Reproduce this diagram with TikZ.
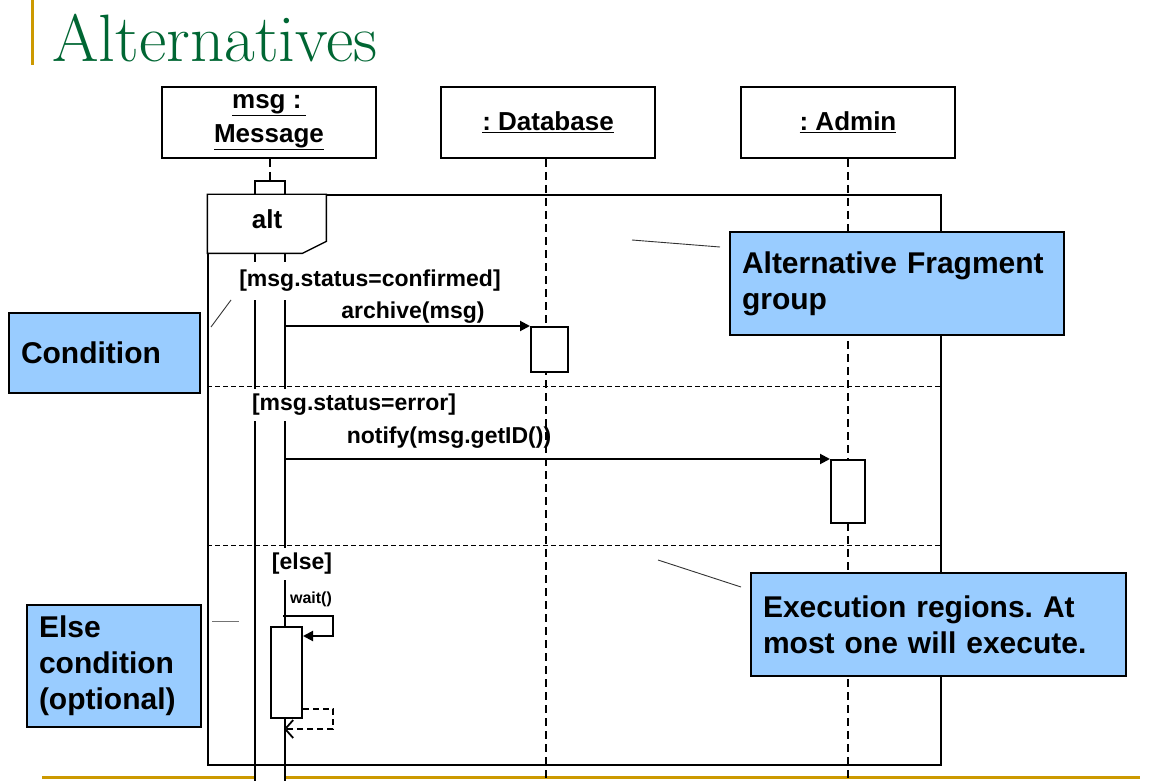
\documentclass[tikz,border=0pt]{standalone}
\usepackage{fontspec}
\setsansfont{Liberation Sans}
\usetikzlibrary{arrows.meta}
\definecolor{titlegreen}{RGB}{0,102,51}
\definecolor{bargold}{RGB}{204,153,0}
\definecolor{noteblue}{RGB}{153,204,255}
\frenchspacing
\tikzset{>=stealth}
\tikzset{
  head/.style={draw, line width=2, fill=white, minimum width=214, minimum height=71,
    align=center, font=\sffamily\bfseries\fontsize{26}{34}\selectfont},
  lifeline/.style={line width=1.6, dash pattern=on 8pt off 5pt},
  act/.style={draw, line width=2, fill=white, inner sep=0},
  call/.style={line width=2, -{Triangle[length=10,width=10]}},
  reply/.style={line width=1.8, dash pattern=on 6pt off 4pt, -{Straight Barb[length=8,width=18]}},
  guard/.style={fill=white, inner xsep=7, inner ysep=5, font=\sffamily\bfseries\fontsize{23}{28}\selectfont},
  msglabel/.style={inner sep=2, font=\sffamily\bfseries\fontsize{23}{28}\selectfont},
  callout/.style={draw, line width=1.2, fill=noteblue, inner xsep=12, inner ysep=0,
    align=left, font=\sffamily\bfseries\fontsize{30}{36}\selectfont},
  pointer/.style={line width=0.9, draw=black!80},
  region/.style={line width=1, dash pattern=on 5pt off 3pt}
}

\begin{document}
\begin{tikzpicture}[x=1pt, y=-1pt]
    \useasboundingbox (0,0) rectangle (1152,781);
    % title and slide rules
    \draw[bargold, line width=3] (32,0) -- (32,65);
    \draw[bargold, line width=3] (42,777) -- (1140,777);
    \node[anchor=base west, inner sep=0, text=titlegreen, font=\fontsize{67}{74}\selectfont]
        (title) at (52,62) {Alternatives};

    % lifelines
    \node[head] (msg) at (269,122.5) {\underline{msg :\,}\\\underline{Message}};
    \node[head] (db) at (548,122.5) {\underline{: Database}};
    \node[head] (adm) at (848,122.5) {\underline{: Admin}};
    \coordinate (dbend) at (546,781);
    \coordinate (admend) at (848,781);
    \draw[lifeline] (db.south -| dbend) -- (dbend);
    \draw[lifeline] (adm.south) -- (admend);

    % activations
    \node[act, minimum width=30, minimum height=601] (msgact) at (270,481.5) {};
    \draw[lifeline] (msg.south -| msgact.north) -- (msgact.north);
    \node[act, minimum width=37, minimum height=45] (dbact) at (549.5,349.5) {};
    \node[act, minimum width=34, minimum height=63] (admact) at (848,491.5) {};

    % alt fragment
    \node[draw, line width=1.3, minimum width=733, minimum height=570, inner sep=0] (alt) at (574.5,480) {};
    \coordinate (sep1) at (0,386);
    \coordinate (sep2) at (0,545);
    \draw[region] (alt.west |- sep1) -- (alt.east |- sep1);
    \draw[region] (alt.west |- sep2) -- (alt.east |- sep2);
    \draw[line width=1.3, fill=white] (alt.north west) -- ++(119,0) -- ++(0,47) -- ++(-24,12) -- ++(-95,0) -- cycle;
    \node[font=\sffamily\bfseries\fontsize{26}{30}\selectfont] (altname) at (267,219) {alt};

    % first region
    \node[guard, inner ysep=8] (g1) at (370,281) {[msg.status=confirmed]};
    \node[msglabel] (m1) at (413,313) {archive(msg)};
    \draw[call] (msgact.east |- dbact.north) -- (dbact.north west);

    % second region
    \node[guard] (g2) at (354,405) {[msg.status=error]};
    \node[msglabel] (m2) at (449,438) {notify(msg.getID())};
    \draw[call] (msgact.east |- admact.north) -- (admact.north west);

    % else region
    \node[guard] (g3) at (302,564) {[else]};
    \node[inner sep=1, font=\sffamily\bfseries\fontsize{16}{19}\selectfont] (m3) at (311,599) {wait()};
    \node[act, minimum width=31, minimum height=91] (waitact) at (286.5,672.5) {};
    \draw[call] (waitact.north east) ++(-20,-10) -- ++(50,0) -- ++(0,20) -- ++(-30,0);
    \draw[reply] (waitact.south east) ++(0,-10) -- ++(30,0) -- ++(0,20) -- ++(-49,0);

    % notes
    \node[callout, text width=167, minimum height=80] (cond) at (104.5,353) {Condition};
    \node[callout, text width=310, minimum height=103] (afg) at (897,283.5) {Alternative Fragment\\group};
    \node[callout, text width=351, minimum height=103] (exec) at (938.5,624.5) {Execution regions. At\\most one will execute.};
    \node[callout, text width=150, minimum height=122] (elsec) at (114,666) {Else\\condition\\(optional)};
    \coordinate (p1a) at (211,327);  \coordinate (p1b) at (231,300);
    \coordinate (p2a) at (632,240);  \coordinate (p2b) at (720,247);
    \coordinate (p3a) at (658,560);  \coordinate (p3b) at (741,587);
    \coordinate (p4a) at (212,621);  \coordinate (p4b) at (239,621);
    \draw[pointer] (p1a) -- (p1b);
    \draw[pointer] (p2a) -- (p2b);
    \draw[pointer] (p3a) -- (p3b);
    \draw[pointer, draw=black!55] (p4a) -- (p4b);
\end{tikzpicture}
\end{document}
